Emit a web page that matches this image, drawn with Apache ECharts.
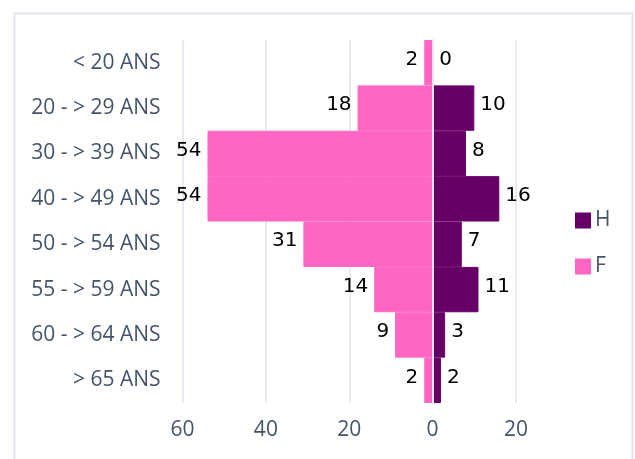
<!DOCTYPE html>
<html>
<head>
<meta charset="utf-8">
<script src="https://cdn.jsdelivr.net/npm/echarts@6/dist/echarts.min.js"></script>
<style>
html,body{margin:0;padding:0;background:#fff;}
#chart{width:635px;height:459px;}
</style>
</head>
<body>
<div id="chart"></div>
<script>
var categories = ['< 20 ANS', '20 - > 29 ANS', '30 - > 39 ANS', '40 - > 49 ANS', '50 - > 54 ANS', '55 - > 59 ANS', '60 - > 64 ANS', '> 65 ANS'];
var femmes = [2, 18, 54, 54, 31, 14, 9, 2];
var hommes = [0, 10, 8, 16, 7, 11, 3, 2];
var xTicks = { min: -60, max: 20, interval: 20 };

var chart = echarts.init(document.getElementById('chart'));
var labelFont = { fontFamily: 'DejaVu Sans', fontSize: 20, color: '#000' };
var pink = '#ff66c4', purple = '#660066';
chart.setOption({
  animation: false,
  backgroundColor: '#fff',
  graphic: [{
    type: 'rect', left: 12, top: 11, silent: true,
    shape: { width: 618, height: 470 },
    style: { fill: 'none', stroke: '#e1e5ee', lineWidth: 2 }
  }],
  legend: {
    data: ['H', 'F'],
    orient: 'vertical',
    left: 570, top: 205,
    itemWidth: 14, itemHeight: 14, itemGap: 25,
    icon: 'rect',
    textStyle: { fontFamily: 'Open Sans', fontSize: 21, color: '#44546a', lineHeight: 20 }
  },
  grid: { left: 182.5, right: 119, top: 40, bottom: 56 },
  xAxis: {
    type: 'value',
    min: xTicks.min, max: xTicks.max, interval: xTicks.interval,
    axisLine: { show: false }, axisTick: { show: false },
    splitLine: { lineStyle: { color: '#dfe3eb', width: 1.5 } },
    axisLabel: {
      margin: 17,
      fontFamily: 'Open Sans', fontSize: 21, color: '#44546a',
      formatter: function (v) { return Math.abs(v); }
    }
  },
  yAxis: {
    type: 'category',
    data: categories,
    inverse: true,
    z: 10,
    axisTick: { show: false },
    axisLine: { show: true, onZero: true, lineStyle: { color: '#e4e7ee', width: 2 } },
    axisLabel: { margin: 22, fontFamily: 'Open Sans', fontSize: 21, color: '#44546a' }
  },
  series: [
    {
      name: 'F', type: 'bar',
      barCategoryGap: '0%', barGap: '-100%',
      itemStyle: { color: pink, borderColor: pink, borderWidth: 1 },
      data: femmes.map(function (v) { return -v; }),
      label: Object.assign({
        show: true, position: 'left', distance: 6, offset: [0, -3],
        formatter: function (p) { return Math.abs(p.value); }
      }, labelFont)
    },
    {
      name: 'H', type: 'bar',
      barCategoryGap: '0%', barGap: '-100%',
      itemStyle: { color: purple, borderColor: purple, borderWidth: 1 },
      data: hommes,
      label: Object.assign({
        show: true, position: 'right', distance: 6, offset: [0, -3]
      }, labelFont)
    }
  ]
});
</script>
</body>
</html>
